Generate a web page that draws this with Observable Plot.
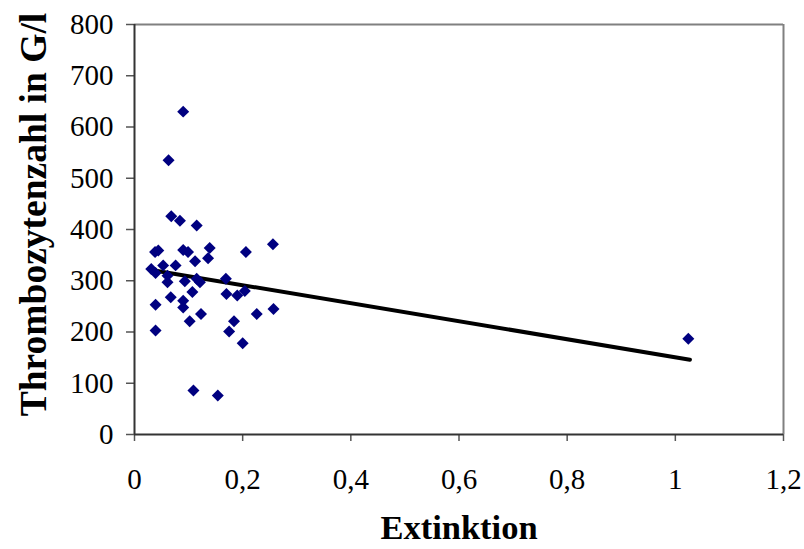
<!DOCTYPE html>
<html>
<head>
<meta charset="utf-8">
<script src="https://cdn.jsdelivr.net/npm/d3@7"></script>
<script src="https://cdn.jsdelivr.net/npm/@observablehq/plot@0.6"></script>
<style>
  html, body { margin: 0; padding: 0; background: #fff; }
  #chart svg { display: block; }
</style>
</head>
<body>
<div id="chart"></div>
<script>
// Extinktion (x) and Thrombozytenzahl in G/l (y)
const extinktion = [0.090, 0.063, 0.068, 0.084, 0.115, 0.256, 0.206, 0.139, 0.038, 0.044,
  0.090, 0.099, 0.112, 0.136, 0.053, 0.076, 0.031, 0.039, 0.061, 0.061,
  0.093, 0.115, 0.121, 0.169, 0.170, 0.190, 0.204, 0.067, 0.107, 0.090,
  0.090, 0.039, 0.123, 0.102, 0.184, 0.226, 0.257, 0.175, 0.039, 0.200,
  0.109, 0.154, 1.024];
const thrombozyten = [630, 535, 426, 417, 408, 371, 356, 364, 356, 359,
  360, 356, 338, 344, 330, 330, 323, 315, 310, 297,
  299, 304, 297, 304, 274, 271, 280, 268, 278, 261,
  248, 253, 235, 221, 221, 235, 245, 201, 203, 178,
  86, 76, 187];
// linear trend line
const trendX = [0.031, 1.027];
const trendY = [321, 146];
const xTicks = [0, 0.2, 0.4, 0.6, 0.8, 1, 1.2];
const yTicks = [0, 100, 200, 300, 400, 500, 600, 700, 800];
const xTitle = "Extinktion";
const yTitle = "Thrombozytenzahl in G/l";

const points = extinktion.map((x, i) => ({x, y: thrombozyten[i]}));
const trend = trendX.map((x, i) => ({x, y: trendY[i]}));
const fmt = d => String(d).replace(".", ",");
const font = "'Liberation Serif', 'Times New Roman', serif";

const chart = Plot.plot({
  width: 804,
  height: 549,
  marginLeft: 134,
  marginRight: 21,
  marginTop: 24,
  marginBottom: 115,
  style: {fontFamily: font, background: "#fff", color: "#000"},
  x: {domain: [0, 1.2]},
  y: {domain: [0, 800]},
  marks: [
    Plot.ruleY([800], {stroke: "#808080", strokeWidth: 2}),
    Plot.ruleX([1.2], {stroke: "#808080", strokeWidth: 2}),
    Plot.axisX({ticks: xTicks, tickFormat: fmt, tickSize: 7, tickPadding: 27, fontSize: 29, stroke: "#555", strokeWidth: 1.5, label: null}),
    Plot.axisY({ticks: yTicks, tickSize: 8, tickPadding: 13, fontSize: 29, stroke: "#555", strokeWidth: 1.5, label: null}),
    Plot.ruleY([0], {stroke: "#333", strokeWidth: 2}),
    Plot.ruleX([0], {stroke: "#333", strokeWidth: 2}),
    Plot.line(trend, {x: "x", y: "y", stroke: "#000", strokeWidth: 4}),
    Plot.dot(points, {x: "x", y: "y", symbol: "diamond2", r: 5.4, fill: "#000080", stroke: "none"}),
    Plot.text([xTitle], {frameAnchor: "bottom", dy: 104, fontSize: 34.5, fontWeight: "bold", fill: "#000"}),
    Plot.text([yTitle], {frameAnchor: "left", textAnchor: "middle", dx: -101, dy: -15, rotate: -90, fontSize: 37.5, fontWeight: "bold", fill: "#000"})
  ]
});
document.getElementById("chart").appendChild(chart);
</script>
</body>
</html>
